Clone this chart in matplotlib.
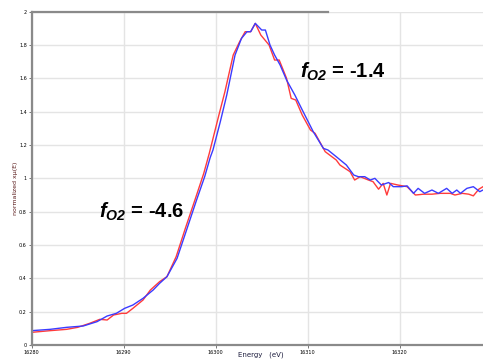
import numpy as np
import matplotlib.pyplot as plt

plt.rcParams['mathtext.fontset'] = 'custom'
plt.rcParams['mathtext.bfit'] = 'Liberation Sans:italic:bold'
plt.rcParams['mathtext.rm'] = 'Liberation Sans'

# fO2 = -1.4 (blue) and fO2 = -4.6 (red)
energy_blue = [16280.0, 16282.0, 16283.8, 16285.6, 16287.1, 16288.2, 16289.2, 16290.1,
               16291.0, 16292.1, 16293.2, 16293.9, 16294.7, 16295.8, 16296.8, 16297.9,
               16298.8, 16299.4, 16299.7, 16300.5, 16301.2, 16302.1, 16302.8, 16303.4,
               16303.8, 16304.3, 16305.0, 16305.4, 16305.9, 16306.4, 16307.0, 16307.7,
               16308.6, 16309.5, 16310.6, 16311.7, 16312.2, 16313.1, 16314.2, 16315.0,
               16315.5, 16316.2, 16316.8, 16317.3, 16318.0, 16318.8, 16319.3, 16320.2,
               16320.8, 16321.5, 16322.0, 16322.7, 16323.5, 16324.2, 16325.1, 16325.7,
               16326.2, 16326.6, 16327.3, 16328.0, 16328.7, 16329.05]
mu_blue = [0.086, 0.094, 0.106, 0.114, 0.14, 0.174, 0.19, 0.22,
           0.24, 0.28, 0.33, 0.37, 0.41, 0.52, 0.685, 0.867,
           1.01, 1.125, 1.17, 1.34, 1.50, 1.74, 1.84, 1.88,
           1.88, 1.93, 1.89, 1.89, 1.80, 1.74, 1.68, 1.59,
           1.50, 1.40, 1.28, 1.18, 1.17, 1.13, 1.08, 1.02,
           1.01, 1.01, 0.99, 1.00, 0.96, 0.975, 0.95, 0.95,
           0.955, 0.91, 0.94, 0.91, 0.93, 0.91, 0.94, 0.91,
           0.93, 0.91, 0.94, 0.95, 0.92, 0.93]

energy_red = [16280.0, 16282.0, 16283.8, 16285.0, 16286.3, 16287.4, 16288.2, 16288.9,
              16289.8, 16290.3, 16291.0, 16292.1, 16292.9, 16293.9, 16294.7, 16295.7,
              16296.7, 16297.8, 16298.7, 16299.3, 16300.3, 16301.0, 16301.9, 16302.6,
              16303.2, 16303.8, 16304.3, 16304.9, 16305.8, 16306.4, 16306.9, 16307.7,
              16308.2, 16308.7, 16309.4, 16310.3, 16310.8, 16311.9, 16313.1, 16313.5,
              16314.6, 16315.1, 16315.7, 16316.6, 16317.1, 16317.7, 16318.2, 16318.6,
              16319.0, 16319.8, 16320.8, 16321.7, 16322.6, 16323.5, 16324.4, 16325.5,
              16326.0, 16326.8, 16327.5, 16328.0, 16328.6, 16329.05]
mu_red = [0.076, 0.086, 0.094, 0.106, 0.13, 0.154, 0.15, 0.18,
          0.19, 0.19, 0.22, 0.27, 0.33, 0.38, 0.41, 0.53,
          0.70, 0.88, 1.03, 1.15, 1.37, 1.52, 1.74, 1.82,
          1.88, 1.88, 1.93, 1.86, 1.80, 1.71, 1.71, 1.60,
          1.48, 1.47, 1.38, 1.29, 1.27, 1.16, 1.11, 1.08,
          1.04, 0.99, 1.01, 0.99, 0.98, 0.935, 0.97, 0.90,
          0.97, 0.96, 0.95, 0.90, 0.905, 0.905, 0.91, 0.91,
          0.90, 0.91, 0.905, 0.895, 0.935, 0.95]

xticks = [16280, 16290, 16300, 16310, 16320]
yticks = [0, 0.2, 0.4, 0.6, 0.8, 1.0, 1.2, 1.4, 1.6, 1.8, 2.0]
ytick_labels = ["0", "0.2", "0.4", "0.6", "0.8", "1", "1.2", "1.4", "1.6", "1.8", "2"]

fig = plt.figure(figsize=(4.83, 3.6), dpi=100)
ax = fig.add_axes([31.7/483, 15/360, 451.3/483, 333.3/360])

ax.plot(energy_red, mu_red, color="#ff3b3b", lw=1.0)
ax.plot(energy_blue, mu_blue, color="#3b3bff", lw=1.0)

ax.set_xlim(16280, 16329.05)
ax.set_ylim(0, 2)
ax.set_xticks(xticks)
ax.set_xticklabels([str(t) for t in xticks])
ax.set_yticks(yticks)
ax.set_yticklabels(ytick_labels)
ax.tick_params(labelsize=3.5, length=2, width=0.6, color="#606060", pad=1.5)
ax.grid(True, color="#e4e4e4", lw=1.0)
ax.set_axisbelow(True)

for s in ["top", "right"]:
    ax.spines[s].set_visible(False)
for s in ["left", "bottom"]:
    ax.spines[s].set_color("#8a8a8a")
    ax.spines[s].set_linewidth(1.6)
# top border only runs part of the way across
ax.plot([0, (328 - 31.7) / 451.3], [1, 1], transform=ax.transAxes,
        color="#8a8a8a", lw=1.6, clip_on=False)

fig.text(15/483, 1 - 188/360, "normalized x\u00b5(E)", rotation=90, fontsize=4.5,
         color="#5a1a1a", ha="center", va="center")
fig.text(261/483, 1 - 355/360, "Energy   (eV)", fontsize=5,
         color="#202040", ha="center", va="center")

ax.text(16309.2, 1.64, r"$\mathbfit{f}_{\mathbfit{O2}}$ = -1.4", fontsize=14.5,
        family="Liberation Sans", fontweight="bold", ha="left", va="center")
ax.text(16287.3, 0.80, r"$\mathbfit{f}_{\mathbfit{O2}}$ = -4.6", fontsize=14.5,
        family="Liberation Sans", fontweight="bold", ha="left", va="center")

fig.savefig("out.png", dpi=100)
